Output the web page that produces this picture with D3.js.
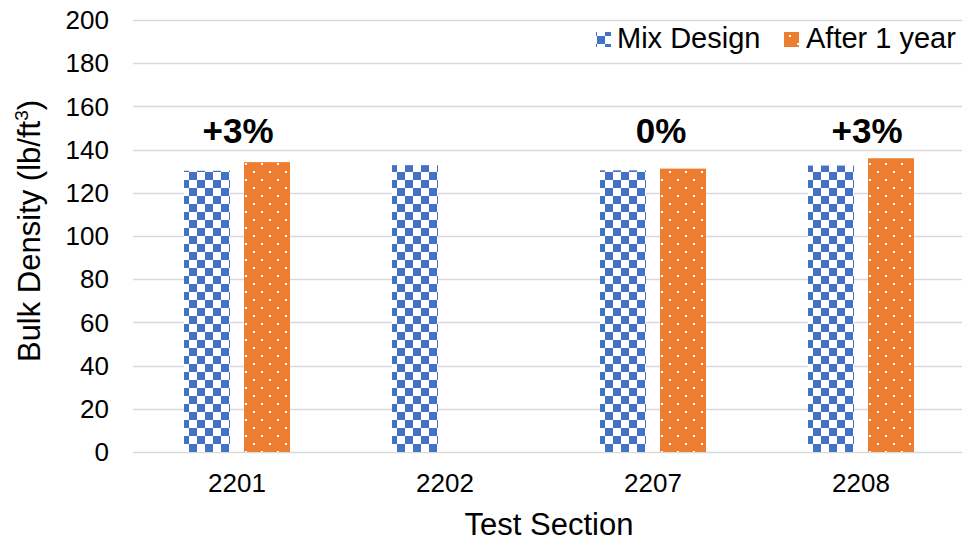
<!DOCTYPE html>
<html>
<head>
<meta charset="utf-8">
<script src="https://cdn.jsdelivr.net/npm/d3@7/dist/d3.min.js"></script>
<style>
  html, body { margin: 0; padding: 0; background: #fff; }
  svg { display: block; font-family: "Liberation Sans", Arial, sans-serif; }
</style>
</head>
<body>
<svg id="chart" width="962" height="541"></svg>
<script>
// Test sections and bulk densities (lb/ft^3)
const sections = ["2201", "2202", "2207", "2208"];
const mixDesign = [130.2, 132.8, 130.4, 132.6];
const afterOneYear = [134.2, null, 131.2, 136.0];
const changeLabels = ["+3%", "", "0%", "+3%"];
const seriesNames = ["Mix Design", "After 1 year"];
const yTicks = [0, 20, 40, 60, 80, 100, 120, 140, 160, 180, 200];

// Horizontal nudges for the hand-placed change labels
const labelNudge = [1, 0, 8, 6];

const svg = d3.select("#chart");
const margin = { left: 133, right: -3, top: 20, bottom: 89 };
const W = 962, H = 541;

const x = d3.scaleBand().domain(sections).range([margin.left, W - margin.right]);
const y = d3.scaleLinear().domain([0, 200]).range([H - margin.bottom, margin.top]);

// Fill patterns
const defs = svg.append("defs");
const checker = defs.append("pattern")
  .attr("id", "checker").attr("patternUnits", "userSpaceOnUse")
  .attr("width", 16).attr("height", 16).attr("x", 5).attr("y", 4);
checker.append("rect").attr("width", 16).attr("height", 16).attr("fill", "#fff");
checker.append("rect").attr("x", 0).attr("y", 0).attr("width", 8).attr("height", 8).attr("fill", "#4472c4");
checker.append("rect").attr("x", 8).attr("y", 8).attr("width", 8).attr("height", 8).attr("fill", "#4472c4");

const dots = defs.append("pattern")
  .attr("id", "dots").attr("patternUnits", "userSpaceOnUse")
  .attr("width", 16).attr("height", 16).attr("x", 5).attr("y", 3);
dots.append("rect").attr("width", 16).attr("height", 16).attr("fill", "#ed7d31");
dots.append("rect").attr("x", 0).attr("y", 0).attr("width", 2).attr("height", 2).attr("fill", "#fff");
dots.append("rect").attr("x", 8).attr("y", 8).attr("width", 2).attr("height", 2).attr("fill", "#fff");

// Gridlines
svg.append("g").selectAll("line").data(yTicks).join("line")
  .attr("x1", margin.left).attr("x2", W)
  .attr("y1", d => Math.round(y(d)) + 0.5).attr("y2", d => Math.round(y(d)) + 0.5)
  .attr("stroke", "#d9d9d9").attr("stroke-width", 1.5);

// Y tick labels
svg.append("g").selectAll("text").data(yTicks).join("text")
  .attr("x", 109).attr("y", d => y(d)).attr("dy", "0.35em")
  .attr("text-anchor", "end").attr("font-size", 26).attr("fill", "#000")
  .text(d => d);

// Bars
const barW = 46, gap = 14;
const cx = d => x(d) + x.bandwidth() / 2;

svg.append("g").selectAll("rect").data(sections.map((s, i) => ({ s, v: mixDesign[i] })))
  .join("rect")
  .attr("x", d => cx(d.s) - gap / 2 - barW).attr("width", barW)
  .attr("y", d => y(d.v)).attr("height", d => y(0) - y(d.v))
  .attr("fill", "url(#checker)");

svg.append("g").selectAll("rect")
  .data(sections.map((s, i) => ({ s, v: afterOneYear[i] })).filter(d => d.v != null))
  .join("rect")
  .attr("x", d => cx(d.s) + gap / 2).attr("width", barW)
  .attr("y", d => y(d.v)).attr("height", d => y(0) - y(d.v))
  .attr("fill", "url(#dots)");

// Percent change annotations
svg.append("g").selectAll("text")
  .data(sections.map((s, i) => ({ s, t: changeLabels[i], n: labelNudge[i] })).filter(d => d.t))
  .join("text")
  .attr("x", d => cx(d.s) + d.n).attr("y", 143)
  .attr("text-anchor", "middle").attr("font-size", 35).attr("font-weight", "bold")
  .attr("fill", "#000").text(d => d.t);

// X tick labels
svg.append("g").selectAll("text").data(sections).join("text")
  .attr("x", d => cx(d)).attr("y", 492)
  .attr("text-anchor", "middle").attr("font-size", 26).attr("fill", "#000")
  .text(d => d);

// Axis titles
svg.append("text").attr("x", 549).attr("y", 535)
  .attr("text-anchor", "middle").attr("font-size", 31).attr("fill", "#000")
  .text("Test Section");

const yt = svg.append("text")
  .attr("transform", "translate(40,231) rotate(-90)")
  .attr("text-anchor", "middle").attr("font-size", 31).attr("fill", "#000");
yt.append("tspan").text("Bulk Density (lb/ft");
yt.append("tspan").attr("font-size", 19).attr("dy", -12).text("3");
yt.append("tspan").attr("dy", 12).text(")");

// Legend
const legend = svg.append("g");
const legendItems = [
  { name: seriesNames[0], fill: "url(#checker)", sx: 596, tx: 617 },
  { name: seriesNames[1], fill: "url(#dots)", sx: 784, tx: 806 }
];
legend.selectAll("rect").data(legendItems).join("rect")
  .attr("x", d => d.sx).attr("y", 32).attr("width", 15).attr("height", 15)
  .attr("fill", d => d.fill);
legend.selectAll("text").data(legendItems).join("text")
  .attr("x", d => d.tx).attr("y", 48)
  .attr("font-size", 29).attr("fill", "#000")
  .text(d => d.name);
</script>
</body>
</html>
